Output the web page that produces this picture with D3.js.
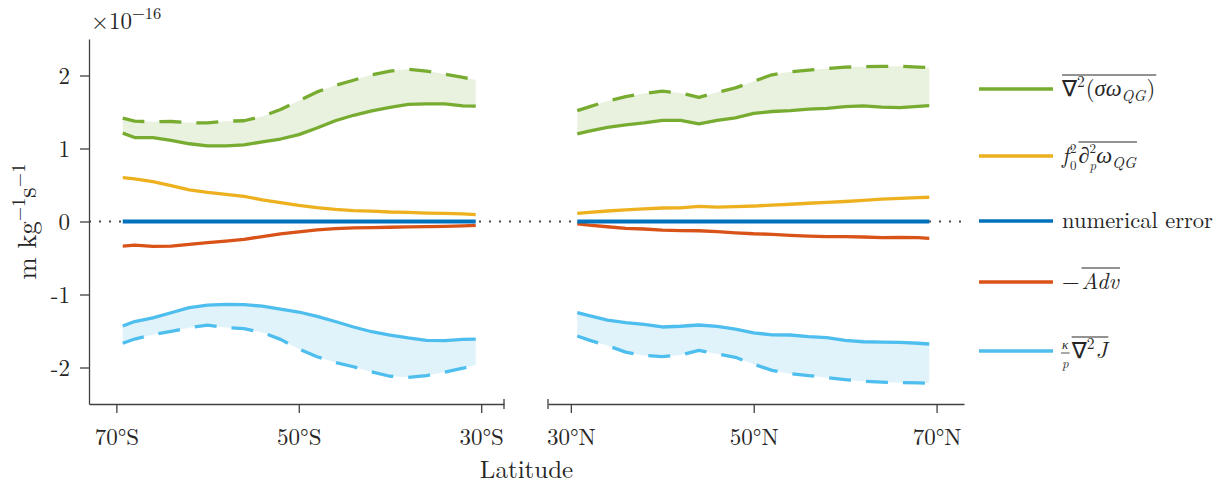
<!DOCTYPE html>
<html>
<head>
<meta charset="utf-8">
<script src="https://cdn.jsdelivr.net/npm/d3@7"></script>
<style>
  body { margin: 0; background: #fff; }
  svg { display: block; }
</style>
</head>
<body>
<div id="chart"></div>
<script>
// latitudes (degrees) of the sampled points, southern and northern panels
const latS = [69.3, 68, 66, 64, 62, 60, 58, 56, 54, 52, 50, 48, 46, 44, 42, 40, 38, 36, 34, 32, 30.6];
const latN = [30.7, 32, 34, 36, 38, 40, 42, 44, 46, 48, 50, 52, 54, 56, 58, 60, 62, 64, 66, 68, 69.2];

// values in units of 1e-16 m kg^-1 s^-1
const lapSigmaS     = [1.21, 1.15, 1.15, 1.11, 1.065, 1.035, 1.035, 1.05, 1.09, 1.13, 1.19, 1.28, 1.38, 1.455, 1.515, 1.564, 1.605, 1.61, 1.61, 1.585, 1.58];
const lapSigmaDashS = [1.415, 1.375, 1.365, 1.37, 1.352, 1.35, 1.375, 1.38, 1.44, 1.535, 1.655, 1.775, 1.865, 1.935, 2.01, 2.06, 2.085, 2.06, 2.02, 1.975, 1.94];
const stretchS      = [0.60, 0.585, 0.545, 0.49, 0.433, 0.40, 0.373, 0.345, 0.296, 0.26, 0.222, 0.19, 0.165, 0.15, 0.141, 0.13, 0.125, 0.115, 0.11, 0.104, 0.093];
const numErrS       = [0, 0, 0, 0, 0, 0, 0, 0, 0, 0, 0, 0, 0, 0, 0, 0, 0, 0, 0, 0, 0];
const advS          = [-0.336, -0.325, -0.34, -0.337, -0.313, -0.289, -0.268, -0.245, -0.206, -0.17, -0.142, -0.116, -0.097, -0.086, -0.083, -0.079, -0.075, -0.071, -0.066, -0.06, -0.052];
const diabS         = [-1.432, -1.37, -1.32, -1.25, -1.18, -1.145, -1.135, -1.14, -1.16, -1.2, -1.24, -1.3, -1.37, -1.445, -1.51, -1.555, -1.595, -1.628, -1.633, -1.615, -1.61];
const diabDashS     = [-1.668, -1.61, -1.55, -1.505, -1.455, -1.42, -1.452, -1.467, -1.52, -1.615, -1.745, -1.853, -1.93, -1.99, -2.06, -2.12, -2.134, -2.11, -2.065, -2.01, -1.965];

const lapSigmaN     = [1.199, 1.237, 1.29, 1.325, 1.352, 1.385, 1.385, 1.337, 1.385, 1.42, 1.48, 1.507, 1.52, 1.54, 1.55, 1.575, 1.583, 1.566, 1.56, 1.577, 1.586];
const lapSigmaDashN = [1.518, 1.57, 1.65, 1.71, 1.755, 1.785, 1.76, 1.70, 1.77, 1.83, 1.92, 2.01, 2.052, 2.073, 2.096, 2.115, 2.12, 2.125, 2.128, 2.115, 2.107];
const stretchN      = [0.112, 0.125, 0.144, 0.16, 0.174, 0.185, 0.186, 0.207, 0.198, 0.205, 0.212, 0.225, 0.236, 0.25, 0.263, 0.274, 0.29, 0.306, 0.317, 0.326, 0.332];
const numErrN       = [0, 0, 0, 0, 0, 0, 0, 0, 0, 0, 0, 0, 0, 0, 0, 0, 0, 0, 0, 0, 0];
const advN          = [-0.034, -0.05, -0.072, -0.094, -0.103, -0.118, -0.125, -0.127, -0.14, -0.155, -0.168, -0.175, -0.19, -0.2, -0.208, -0.208, -0.212, -0.22, -0.219, -0.222, -0.23];
const diabN         = [-1.249, -1.29, -1.35, -1.384, -1.41, -1.445, -1.435, -1.418, -1.437, -1.475, -1.525, -1.553, -1.555, -1.578, -1.59, -1.628, -1.647, -1.652, -1.655, -1.668, -1.678];
const diabDashN     = [-1.568, -1.625, -1.70, -1.79, -1.835, -1.85, -1.83, -1.765, -1.815, -1.86, -1.955, -2.04, -2.085, -2.11, -2.14, -2.167, -2.19, -2.20, -2.208, -2.21, -2.216];

const yTicks = [-2, -1, 0, 1, 2];
const yTickLabels = ['-2', '-1', '0', '1', '2'];
const xTicks = [70, 50, 30];

const colors = {
    green: '#77AC30', yellow: '#EDB120', blue: '#0072BD', red: '#D95319', cyan: '#4DBEEE',
    greenFill: '#E9F1DF', cyanFill: '#E1F3FA', axis: '#404040', text: '#262626'
};
const FONT = '"Latin Modern Roman", "CMU Serif", "Liberation Serif", serif';
const MATHFONT = '"DejaVu Sans", "Latin Modern Roman", serif';

const width = 1223, height = 485;
const svg = d3.select('#chart').append('svg')
    .attr('width', width)
    .attr('height', height);

const y = d3.scaleLinear().domain([-2.5, 2.5]).range([404, 39]);
const xS = d3.scaleLinear().domain([73, 27.5]).range([89, 504]);
const xN = d3.scaleLinear().domain([27.5, 73]).range([548, 964]);

function addText(parent, size) {
    return parent.append('text')
        .style('font-family', FONT)
        .attr('font-size', size)
        .attr('fill', colors.text);
}

// one panel: shaded bands then the lines
function drawPanel(x, lats, s) {
    const g = svg.append('g');
    const rows = lats.map((lat, i) => ({lat, i}));

    const band = (lo, hi, fill) => {
        const area = d3.area()
            .x(d => x(d.lat))
            .y0(d => y(lo[d.i]))
            .y1(d => y(hi[d.i]));
        g.append('path').attr('d', area(rows)).attr('fill', fill);
    };
    band(s.lap, s.lapDash, colors.greenFill);
    band(s.diab, s.diabDash, colors.cyanFill);

    const line = (vals, color, dashed, w) => {
        const gen = d3.line().x(d => x(d.lat)).y(d => y(vals[d.i]));
        g.append('path')
            .attr('d', gen(rows))
            .attr('fill', 'none')
            .attr('stroke', color)
            .attr('stroke-width', w || 3.3)
            .attr('stroke-linejoin', 'round')
            .attr('stroke-dasharray', dashed ? '22,15' : null);
    };
    line(s.lapDash, colors.green, true);
    line(s.lap, colors.green, false);
    line(s.diabDash, colors.cyan, true);
    line(s.diab, colors.cyan, false);
    line(s.stretch, colors.yellow, false);
    line(s.adv, colors.red, false);
    line(s.err, colors.blue, false, 3.8);
}

// dotted zero line across both panels (under the data)
svg.append('line')
    .attr('x1', xS(73)).attr('x2', xN(73))
    .attr('y1', y(0)).attr('y2', y(0))
    .attr('stroke', '#4a4a4a')
    .attr('stroke-width', 2)
    .attr('stroke-dasharray', '2,8');

drawPanel(xS, latS, {lap: lapSigmaS, lapDash: lapSigmaDashS, stretch: stretchS, err: numErrS, adv: advS, diab: diabS, diabDash: diabDashS});
drawPanel(xN, latN, {lap: lapSigmaN, lapDash: lapSigmaDashN, stretch: stretchN, err: numErrN, adv: advN, diab: diabN, diabDash: diabDashN});

// axes
function styleAxis(sel) {
    sel.attr('font-family', null).attr('font-size', null);
    sel.select('.domain').attr('stroke', colors.axis).attr('stroke-width', 1.3);
    sel.selectAll('.tick line').attr('stroke', colors.axis).attr('stroke-width', 1.3);
    sel.selectAll('text').attr('font-size', 23)
        .style('font-family', FONT).attr('fill', colors.text);
}

const yAxis = svg.append('g')
    .attr('transform', 'translate(89,0)')
    .call(d3.axisLeft(y).tickValues(yTicks).tickFormat((d, i) => yTickLabels[i]).tickSize(9).tickSizeOuter(0).tickPadding(10));
styleAxis(yAxis);
yAxis.selectAll('text').attr('dy', '0.34em');

const xAxisS = svg.append('g')
    .attr('transform', 'translate(0,404)')
    .call(d3.axisBottom(xS).tickValues(xTicks).tickFormat(d => d + '°S').tickSize(9).tickSizeOuter(0));
styleAxis(xAxisS);
xAxisS.selectAll('text').attr('y', 41).attr('dy', 0);

const xAxisN = svg.append('g')
    .attr('transform', 'translate(0,404)')
    .call(d3.axisBottom(xN).tickValues(xTicks).tickFormat(d => d + '°N').tickSize(9).tickSizeOuter(0));
styleAxis(xAxisN);
xAxisN.selectAll('text').attr('y', 41).attr('dy', 0);

// break marks at the inner ends of the two x axes
[xS(27.5), xN(27.5)].forEach(px => {
    svg.append('line')
        .attr('x1', px).attr('x2', px).attr('y1', 399).attr('y2', 409)
        .attr('stroke', colors.axis).attr('stroke-width', 1.3);
});

// axis titles
addText(svg, 25)
    .attr('x', (xS(73) + xN(73)) / 2).attr('y', 478)
    .attr('text-anchor', 'middle')
    .text('Latitude');

const yl = addText(svg, 26.5)
    .attr('transform', 'translate(36,' + y(0) + ') rotate(-90)')
    .attr('text-anchor', 'middle');
yl.append('tspan').text('m kg');
yl.append('tspan').attr('dy', -11).attr('font-size', 18.5).text('−1');
yl.append('tspan').attr('dy', 11).text('s');
yl.append('tspan').attr('dy', -11).attr('font-size', 18.5).text('−1');

const expo = addText(svg, 23).attr('x', 91).attr('y', 29);
expo.append('tspan').text('×10');
expo.append('tspan').attr('dy', -10).attr('font-size', 16.5).text('−16');

// legend labels: one text element each, pieces placed as tspans
const BASE = 22.5, SCRIPT = 15.5, STACKED = 13;
const shift = {sup: -9, sub: 5, top: -9, bot: 10, ssup: -10, ssub: 7};
function mathLabel(x0, base, pieces) {
    const g = svg.append('g');
    const txt = addText(g, BASE);
    let cursor = x0, lastStart = x0;
    let olA = Infinity, olB = -Infinity;
    pieces.forEach(p => {
        const start = p.stack ? lastStart : cursor;
        const small = ['top', 'bot', 'ssup', 'ssub'].includes(p.lvl);
        const ts = txt.append('tspan')
            .attr('x', start).attr('y', base + (shift[p.lvl] || 0))
            .attr('font-size', p.lvl ? (small ? STACKED : SCRIPT) : BASE)
            .style('font-style', p.it ? 'italic' : 'normal')
            .text(p.t);
        if (p.math) ts.style('font-family', MATHFONT);
        const end = start + ts.node().getComputedTextLength();
        if (p.stack) {
            cursor = Math.max(cursor, end);
        } else {
            lastStart = start;
            cursor = end;
        }
        if (p.bar) {
            g.append('line').attr('x1', start - 1).attr('x2', cursor + 1)
                .attr('y1', base - 5).attr('y2', base - 5)
                .attr('stroke', colors.text).attr('stroke-width', 0.8);
        }
        if (p.ol) {
            olA = Math.min(olA, start);
            olB = Math.max(olB, cursor);
        }
        cursor += p.gap || 0;
    });
    if (olB > olA) {
        g.append('line').attr('x1', olA).attr('x2', olB + 1)
            .attr('y1', base - 21).attr('y2', base - 21)
            .attr('stroke', colors.text).attr('stroke-width', 1);
    }
}

const legendItems = [
    {color: colors.green, y: 89, pieces: [
        {t: '∇', math: 1, ol: 1}, {t: '2', lvl: 'sup', ol: 1, gap: 1}, {t: '(', ol: 1}, {t: 'σω', it: 1, ol: 1},
        {t: 'QG', it: 1, lvl: 'sub', ol: 1, gap: 1}, {t: ')', ol: 1}]},
    {color: colors.yellow, y: 156, pieces: [
        {t: 'f', it: 1, gap: 1}, {t: '0', lvl: 'ssub'}, {t: '2', lvl: 'ssup', stack: 1, gap: 2},
        {t: '∂', ol: 1}, {t: 'p', it: 1, lvl: 'ssub', ol: 1}, {t: '2', lvl: 'ssup', stack: 1, ol: 1},
        {t: 'ω', it: 1, ol: 1}, {t: 'QG', it: 1, lvl: 'sub', ol: 1}]},
    {color: colors.blue, y: 221, pieces: [{t: 'numerical error'}]},
    {color: colors.red, y: 282, pieces: [{t: '−', gap: 2}, {t: 'Adv', it: 1, ol: 1}]},
    {color: colors.cyan, y: 351, pieces: [
        {t: 'κ', it: 1, lvl: 'top'}, {t: 'p', it: 1, lvl: 'bot', stack: 1, bar: 1, gap: 3},
        {t: '∇', math: 1, ol: 1}, {t: '2', lvl: 'sup', ol: 1, gap: 1}, {t: 'J', it: 1, ol: 1}]}
];

legendItems.forEach(item => {
    svg.append('line')
        .attr('x1', 979).attr('x2', 1053)
        .attr('y1', item.y).attr('y2', item.y)
        .attr('stroke', item.color).attr('stroke-width', 3.3);
    mathLabel(1062, item.y + 7, item.pieces);
});
</script>
</body>
</html>
